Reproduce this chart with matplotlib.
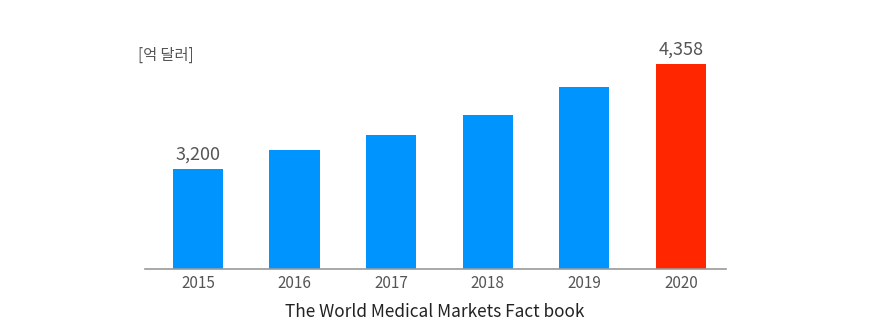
import matplotlib
matplotlib.use("Agg")
import matplotlib.pyplot as plt

years = ["2015", "2016", "2017", "2018", "2019", "2020"]
values = [3200, 3410, 3575, 3795, 4105, 4358]
labeled = [True, False, False, False, False, True]
colors = ["#0094FF"] * 5 + ["#FF2600"]
unit_label = "[억 달러]"
source = "The World Medical Markets Fact book"

plt.rcParams['font.family'] = ['Noto Sans CJK KR', 'DejaVu Sans']

W, H = 890, 336
fig = plt.figure(figsize=(W / 100, H / 100), dpi=100)
# axes in pixel coords: left 145, right 726, bottom 269 (from top), top 20
ax = fig.add_axes([145 / W, (H - 269) / H, (726 - 145) / W, (269 - 20) / H])

ymin = 2097
ymax = ymin + 249 * 11.029
x = list(range(len(years)))
bars = ax.bar(x, [v - ymin for v in values], bottom=ymin, width=0.52, color=colors)
ax.set_xlim(-0.548, 5.466)
ax.set_ylim(ymin, ymax)

for xi, v, lab in zip(x, values, labeled):
    if lab:
        ax.annotate(f"{v:,}", (xi, v), xytext=(0, 4), textcoords="offset points",
                    ha="center", va="bottom", fontsize=13, color="#555555")

for s in ["top", "right", "left"]:
    ax.spines[s].set_visible(False)
ax.spines["bottom"].set_color("#999999")
ax.spines["bottom"].set_linewidth(1.2)
ax.set_yticks([])
ax.set_xticks(x)
ax.set_xticklabels(years, fontsize=11, color="#555555")
ax.tick_params(axis="x", length=0, pad=4)

fig.text(138 / W, 1 - 55 / H, unit_label, fontsize=11, color="#555555",
         ha="left", va="center")
fig.text(435 / W, 1 - 312 / H, source, fontsize=12.4, color="#222222",
         ha="center", va="center")

fig.savefig("out.png", dpi=100)
